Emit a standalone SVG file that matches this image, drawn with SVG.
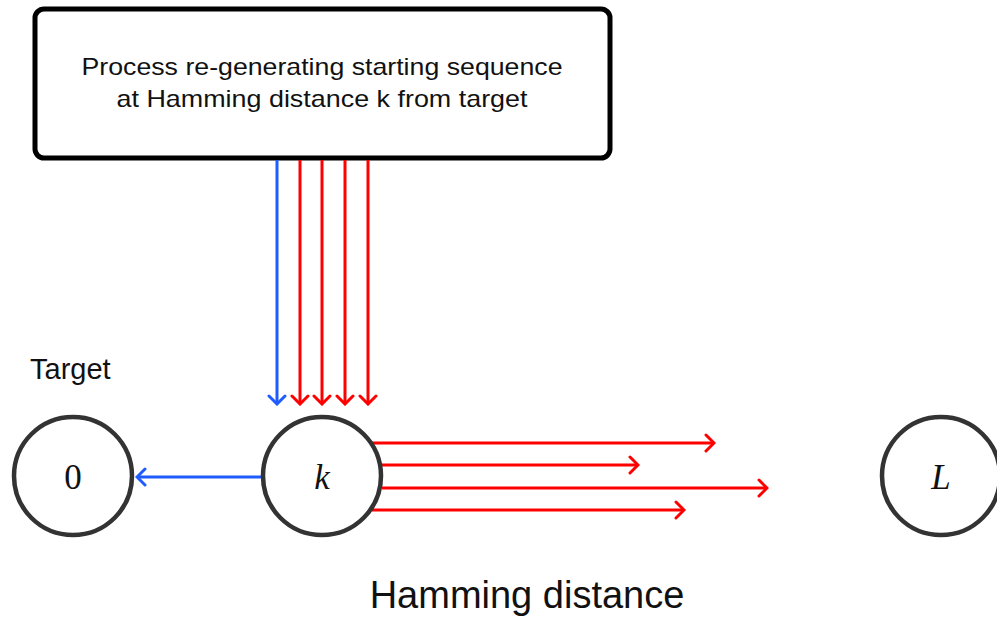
<svg xmlns="http://www.w3.org/2000/svg" width="997" height="621" viewBox="0 0 997 621">
  <style>
    .node { fill: #ffffff; stroke: #333333; stroke-width: 4.5; }
    .math { font-family: "Liberation Serif", "DejaVu Serif", serif; font-size: 35px; fill: #111111; text-anchor: middle; }
    .label { font-family: "Liberation Sans", Arial, sans-serif; fill: #111111; }
    .red { stroke: #ff0000; stroke-width: 3; fill: none; marker-end: url(#tipRed); }
    .blue { stroke: #1f5cff; stroke-width: 3; fill: none; marker-end: url(#tipBlue); }
  </style>
  <defs>
    <marker id="tipRed" viewBox="-10 -10 12 20" markerWidth="12" markerHeight="20" refX="0" refY="0" orient="auto" markerUnits="userSpaceOnUse">
      <path d="M -8 -8 Q -1.5 -1.5 0 0 Q -1.5 1.5 -8 8" fill="none" stroke="#ff0000" stroke-width="3" stroke-linecap="round"/>
    </marker>
    <marker id="tipBlue" viewBox="-10 -10 12 20" markerWidth="12" markerHeight="20" refX="0" refY="0" orient="auto" markerUnits="userSpaceOnUse">
      <path d="M -8 -8 Q -1.5 -1.5 0 0 Q -1.5 1.5 -8 8" fill="none" stroke="#1f5cff" stroke-width="3" stroke-linecap="round"/>
    </marker>
  </defs>
  <rect width="997" height="621" fill="#ffffff"/>

  <g id="process">
    <rect x="35" y="9" width="575" height="149" rx="9" ry="9" fill="#ffffff" stroke="#000000" stroke-width="5"/>
    <text class="label" x="322" y="75" font-size="24" text-anchor="middle" textLength="481" lengthAdjust="spacingAndGlyphs">Process re-generating starting sequence</text>
    <text class="label" x="322" y="107" font-size="24" text-anchor="middle" textLength="411" lengthAdjust="spacingAndGlyphs">at Hamming distance k from target</text>
  </g>

  <g id="connectors">
    <line class="blue" x1="277" y1="160" x2="277" y2="404"/>
    <line class="red" x1="300" y1="160" x2="300" y2="404"/>
    <line class="red" x1="322" y1="160" x2="322" y2="404"/>
    <line class="red" x1="345" y1="160" x2="345" y2="404"/>
    <line class="red" x1="368" y1="160" x2="368" y2="404"/>
    <line class="blue" x1="262" y1="477" x2="137" y2="477"/>
    <line class="red" x1="372" y1="443" x2="714" y2="443"/>
    <line class="red" x1="382" y1="465" x2="638" y2="465"/>
    <line class="red" x1="382" y1="488" x2="767" y2="488"/>
    <line class="red" x1="372" y1="510" x2="684" y2="510"/>
  </g>

  <g id="node-0">
    <circle class="node" cx="73" cy="476" r="59"/>
    <text class="math" x="73" y="489">0</text>
  </g>
  <g id="node-k">
    <circle class="node" cx="322" cy="476" r="59"/>
    <text class="math" x="322" y="489" font-style="italic">k</text>
  </g>
  <g id="node-L">
    <circle class="node" cx="941" cy="476" r="59"/>
    <text class="math" x="941" y="489" font-style="italic">L</text>
  </g>

  <g id="target-label">
    <text class="label" x="30" y="379" font-size="29">Target</text>
  </g>
  <g id="axis-label">
    <text class="label" x="527" y="608" font-size="38" text-anchor="middle">Hamming distance</text>
  </g>
</svg>
